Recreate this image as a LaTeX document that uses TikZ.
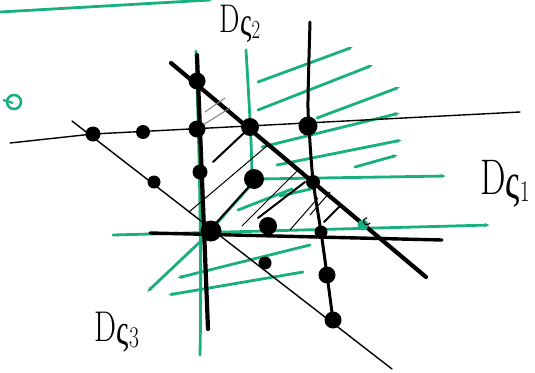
\documentclass[tikz,border=0pt]{standalone}
\usepackage{fontspec}
\newfontfamily\grk{Liberation Serif}
\usetikzlibrary{arrows.meta}
\definecolor{gr}{RGB}{24,176,128}
\tikzset{
 thinblk/.style={black,line width=1.4pt,line cap=round},
 thickblk/.style={black,line width=4.2pt,line cap=round},
 medblk/.style={black,line width=3pt,line cap=round},
 grn/.style={gr,line width=2.8pt,line cap=round},
 garr/.style={grn,-{Latex[length=5pt,width=4.5pt]}},
 hatch/.style={black,line width=1pt,line cap=round},
 hatchthick/.style={black,line width=2pt,line cap=round},
 dot/.style={circle,fill=black,inner sep=0pt,minimum size=#1},
 lbl/.style={inner sep=0pt},
}
\newcommand\lbltxt[3]{\scalebox{0.72}[1]{\fontsize{#1}{#1}\selectfont D\raisebox{-0.08em}{\grk ς}\raisebox{-0.14em}{\fontsize{#2}{#2}\selectfont #3}}}
\begin{document}
\begin{tikzpicture}[x=1pt,y=-1pt]
\useasboundingbox (0,0) rectangle (535,372);
% ---------- green elements ----------
\draw[grn] (0,12) -- (210,0);
\draw[gr,line width=2.6pt] (14,102) circle (7);
\draw[gr,line width=2.2pt] (3,100) -- (13,103);
% green verticals
\draw[grn] (196,51) .. controls (199,150) and (202,250) .. (200,355);
\draw[grn] (246,50) .. controls (249,100) and (252,150) .. (252,181);
% upper-right arrows
\draw[garr] (258,82) -- (353,47);
\draw[garr] (258,110) -- (373,65);
\draw[garr] (317,118) -- (400,87);
\draw[garr] (262,147) -- (400,113);
\draw[garr] (277,165) -- (402,140);
\draw[garr] (355,167) -- (398,155);
\draw[garr] (258,179) -- (446,176);
% green inside triangle
\draw[grn] (238,210) -- (292,189);
\draw[grn] (280,196) -- (315,188);
% lower green horizontal
\draw[garr] (113,235) -- (490,225);
% lower-left arrows
\draw[grn] (250,186) -- (202,240);
\draw[garr] (202,240) -- (147,292);
\draw[garr] (310,245) -- (177,278);
\draw[garr] (303,272) -- (168,295);
% ---------- black lines ----------
\coordinate (h0) at (10,143);
\coordinate (h1) at (93,134);
\coordinate (h2) at (520,112);
\draw[thinblk] (h0) -- (h1) -- (h2);
\coordinate (d0) at (72,121);
\coordinate (d1) at (392,369);
\draw[thinblk] (d0) -- (d1);
\draw[thickblk] (197,55) -- (208,329);
\draw[thickblk] (171,63) -- (426,277);
\draw[medblk] plot[smooth] coordinates {(310,22) (308,100) (309,127) (313,180) (321,232) (327,275) (333,320)};
\draw[thickblk,line width=3.4pt] (150,233) -- (442,240);
% hatching
\draw[hatch,gray] (205,112) -- (225,98);
\draw[hatch,gray] (203,125) -- (230,108);
\draw[hatchthick] (213,162) -- (245,132);
\draw[hatch] (189,212) -- (268,145);
\draw[hatchthick] (208,232) -- (255,180);
\draw[hatch] (242,226) -- (297,171);
\draw[hatchthick] (258,218) -- (305,182);
\draw[hatch] (290,230) -- (318,198);
\draw[hatch] (310,215) -- (330,192);
\draw[hatchthick] (324,222) -- (340,206);
% ---------- dots ----------
\node[dot=15pt] (p1) at (93,134) {};
\node[dot=14pt] (p2) at (143,132) {};
\node[dot=13pt] (p3) at (154,182) {};
\node[dot=17pt] (p4) at (197,81) {};
\node[dot=17pt] (p5) at (197,129) {};
\node[dot=18pt] (p6) at (250,127) {};
\node[dot=19pt] (p7) at (308,126) {};
\node[dot=15pt] (p8) at (200,172) {};
\node[dot=20pt] (p9) at (254,179) {};
\node[dot=14pt] (p10) at (313,182) {};
\node[dot=21pt] (p11) at (211,231) {};
\node[dot=18pt] (p12) at (268,226) {};
\node[dot=13pt] (p13) at (321,232) {};
\node[circle,fill=gr,inner sep=0pt,minimum size=11pt] (p14) at (363,225) {};
\draw[black,line width=1.2pt] (370,223) arc (30:270:3.5);
\node[dot=13pt] (p15) at (265,263) {};
\node[dot=17pt] (p16) at (327,275) {};
\node[dot=17pt] (p17) at (333,320) {};
% ---------- labels ----------
\node[lbl] (l2) at (240,24) {\lbltxt{40}{26}{2}};
\node[lbl] (l1) at (505,184) {\lbltxt{50}{30}{1}};
\node[lbl] (l3) at (117,332) {\lbltxt{43}{30}{3}};
\end{tikzpicture}
\end{document}
